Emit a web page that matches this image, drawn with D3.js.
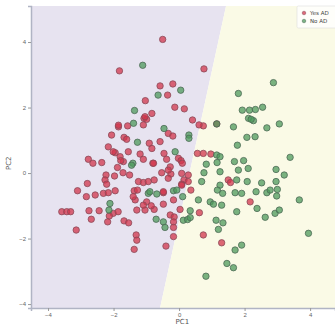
<!DOCTYPE html>
<html>
<head>
<meta charset="utf-8">
<script src="https://cdn.jsdelivr.net/npm/d3@7"></script>
<style>
  body { margin: 0; background: #fff; }
  svg { display: block; font-family: "DejaVu Sans", sans-serif; }
</style>
</head>
<body>
<div id="chart"></div>
<script>
// class 0 (red) points, PC1 / PC2
const redX = [-0.50,-1.82,0.76,-0.58,-0.19,-0.35,-1.03,-0.13,0.16,-0.83,-1.07,-0.99,-1.09,0.41,-1.57,1.15,0.74,0.61,-0.33,-0.19,
  -2.06,-1.68,-1.60,-1.85,-0.91,-0.58,-0.83,-2.16,-1.95,-1.80,-1.70,-1.78,-1.88,-2.77,-2.36,-2.63,-1.19,-1.09,-0.80,-0.46,
  -0.38,-0.02,0.06,0.10,-0.27,0.56,0.74,0.97,-2.23,-1.97,-1.71,-1.51,-2.80,-2.26,-2.21,-1.24,-1.09,-0.94,-0.76,-0.53,
  -0.25,0.08,0.15,0.08,0.28,1.50,1.57,-3.10,-2.83,-2.56,-2.31,-2.16,-1.95,-1.37,-1.27,-0.48,0.36,2.17,-1.34,-0.99,
  -3.58,-3.43,-3.31,-2.75,-2.44,-2.01,-1.86,-2.13,-2.68,-2.18,-1.68,-1.54,-1.29,-1.04,-0.76,-0.48,-0.17,0.03,-0.27,-0.15,
  0.62,-0.17,-0.17,-3.14,-0.17,-1.31,-1.29,-1.37,-0.40,0.74,1.30,-1.04,-1.85,-2.01,-1.55,-0.78,-0.33,-0.33,-1.40,-0.48,
  0.08,0.28,-1.09,-0.85];
const redY = [4.08,3.12,3.18,2.66,2.72,2.38,2.21,2.01,1.96,1.82,1.67,1.64,1.47,1.62,1.44,1.50,1.44,1.47,1.21,1.13,
  1.16,1.09,1.03,1.41,0.91,0.96,0.75,0.80,0.62,0.50,0.35,0.38,0.17,0.42,0.32,0.30,0.58,0.42,0.30,0.60,
  0.42,0.45,0.38,0.30,0.19,0.60,0.60,0.58,-0.06,-0.09,0.01,-0.06,-0.32,-0.21,-0.34,-0.26,-0.29,-0.26,-0.21,0.01,
  -0.03,-0.01,-0.21,-0.34,-0.26,-0.21,-0.29,-0.54,-0.72,-0.67,-0.62,-0.60,-0.54,-0.54,-0.52,-0.60,-0.52,-0.88,-0.82,-0.88,
  -1.18,-1.18,-1.18,-1.15,-1.15,-1.23,-1.18,-1.31,-1.41,-1.49,-1.46,-1.52,-1.13,-1.13,-1.11,-0.95,-0.82,-1.11,-1.28,-1.34,
  -1.21,-1.49,-1.66,-1.74,-1.94,-1.89,-2.05,-2.33,-2.23,-1.89,-2.13,1.72,1.46,0.65,0.65,0.30,0.09,-0.16,-0.72,-0.57,
  -0.37,-0.06,-0.98,-1.00];

// class 1 (green) points
const greenX = [-1.11,0.05,-0.64,2.88,1.81,-1.36,-1.39,1.93,2.15,2.33,2.55,2.12,2.27,2.20,1.15,1.66,2.68,3.06,-0.46,0.30,
  0.30,-1.27,2.07,2.32,1.78,-1.41,-0.12,1.15,1.25,0.83,1.16,1.69,1.97,3.39,0.76,1.25,1.81,2.11,2.96,3.21,
  0.69,1.25,1.76,2.08,2.52,2.96,-0.94,-0.68,-0.17,0.11,1.17,1.33,1.71,1.91,2.35,2.68,2.78,3.00,2.98,-2.11,
  -2.14,0.95,1.05,1.30,0.59,3.67,0.34,-0.70,-0.48,-0.43,0.13,0.26,0.34,1.13,1.34,1.20,1.76,2.38,2.63,2.93,
  3.06,3.95,1.91,1.71,1.46,1.66,0.82,-1.45,-0.89,-0.07];
const greenY = [3.29,2.53,2.38,2.76,2.43,1.91,1.52,1.92,1.92,1.94,2.01,1.67,1.60,1.64,1.50,1.41,1.38,1.50,1.36,1.16,
  1.06,0.94,1.09,1.11,0.85,0.30,0.65,0.55,0.50,0.27,0.32,0.35,0.38,0.48,0.01,0.04,0.09,0.14,0.11,-0.06,
  -0.26,-0.37,-0.21,-0.26,-0.30,-0.26,-0.62,-0.64,-0.54,-0.72,-0.52,-0.62,-0.60,-0.62,-0.57,-0.60,-0.52,-0.50,-0.70,-0.93,
  -1.13,-0.88,-0.95,-0.98,-0.82,-0.82,-1.15,-1.41,-1.49,-1.66,-1.44,-1.42,-1.36,-1.44,-1.52,-1.72,-1.18,-1.08,-1.35,-1.23,
  -1.13,-1.84,-2.20,-2.35,-2.76,-2.89,-3.15,0.24,-0.57,-0.52];

const xTicks = [-4, -2, 0, 2, 4];
const yTicks = [-4, -2, 0, 2, 4];
const classLabels = ["Yes AD", "No AD"];

// decision line: PC1 = b0 + b1 * PC2
const b0 = 0.32, b1 = 0.2185;
const xExtent = [-4.52, 4.76], yExtent = [-4.12, 5.1];

const width = 335, height = 327;
const margin = { top: 6, right: 0, bottom: 19, left: 31 };

const svg = d3.select("#chart").append("svg")
  .attr("width", width).attr("height", height);

const x = d3.scaleLinear().domain(xExtent).range([margin.left, width - margin.right]);
const y = d3.scaleLinear().domain(yExtent).range([height - margin.bottom, margin.top]);

const bx = v => b0 + b1 * v;

// decision regions
const leftPoly = [[xExtent[0], yExtent[0]], [bx(yExtent[0]), yExtent[0]], [bx(yExtent[1]), yExtent[1]], [xExtent[0], yExtent[1]]];
const rightPoly = [[bx(yExtent[0]), yExtent[0]], [xExtent[1], yExtent[0]], [xExtent[1], yExtent[1]], [bx(yExtent[1]), yExtent[1]]];
const line = d3.line().x(d => x(d[0])).y(d => y(d[1]));

svg.append("path").attr("d", line(leftPoly) + "Z").attr("fill", "#e7e3f0");
svg.append("path").attr("d", line(rightPoly) + "Z").attr("fill", "#fafae6");

// points
const pts = [];
redX.forEach((v, i) => pts.push({ x: v, y: redY[i], c: 0 }));
greenX.forEach((v, i) => pts.push({ x: v, y: greenY[i], c: 1 }));
const fills = ["#d2364c", "#4e9a5c"];
const strokes = ["#8a4a58", "#4d6a55"];

svg.append("g").selectAll("circle").data(pts).enter().append("circle")
  .attr("cx", d => x(d.x)).attr("cy", d => y(d.y)).attr("r", 3.2)
  .attr("fill", d => fills[d.c]).attr("fill-opacity", 0.75)
  .attr("stroke", d => strokes[d.c]).attr("stroke-width", 0.8);

// axes
const xAxis = svg.append("g").attr("transform", `translate(0,${height - margin.bottom})`)
  .call(d3.axisBottom(x).tickValues(xTicks).tickSize(3).tickPadding(2));
const yAxis = svg.append("g").attr("transform", `translate(${margin.left},0)`)
  .call(d3.axisLeft(y).tickValues(yTicks).tickSize(3).tickPadding(2));
[xAxis, yAxis].forEach(a => {
  a.select(".domain").attr("stroke", "#b0b4c4").attr("stroke-width", 1.5);
  a.selectAll(".tick line").attr("stroke", "#999");
  a.selectAll(".tick text").attr("fill", "#666").style("font-size", "6px");
});

svg.append("text").attr("x", x(0.1)).attr("y", height - 3)
  .attr("text-anchor", "middle").attr("fill", "#555").style("font-size", "7px").text("PC1");
svg.append("text").attr("transform", `translate(11,${y(0.3)}) rotate(-90)`)
  .attr("text-anchor", "middle").attr("fill", "#555").style("font-size", "7px").text("PC2");

// legend
const lg = svg.append("g").attr("transform", "translate(297,6)");
lg.append("rect").attr("width", 40).attr("height", 22).attr("fill", "#fff")
  .attr("fill-opacity", 0.8).attr("stroke", "#ddd").attr("stroke-width", 0.6).attr("rx", 1.5);
classLabels.forEach((t, i) => {
  lg.append("circle").attr("cx", 7).attr("cy", 7 + i * 8).attr("r", 1.8)
    .attr("fill", fills[i]).attr("fill-opacity", 0.75).attr("stroke", strokes[i]).attr("stroke-width", 0.5);
  lg.append("text").attr("x", 13).attr("y", 9 + i * 8).attr("fill", "#444")
    .style("font-size", "5.5px").text(t);
});
</script>
</body>
</html>
